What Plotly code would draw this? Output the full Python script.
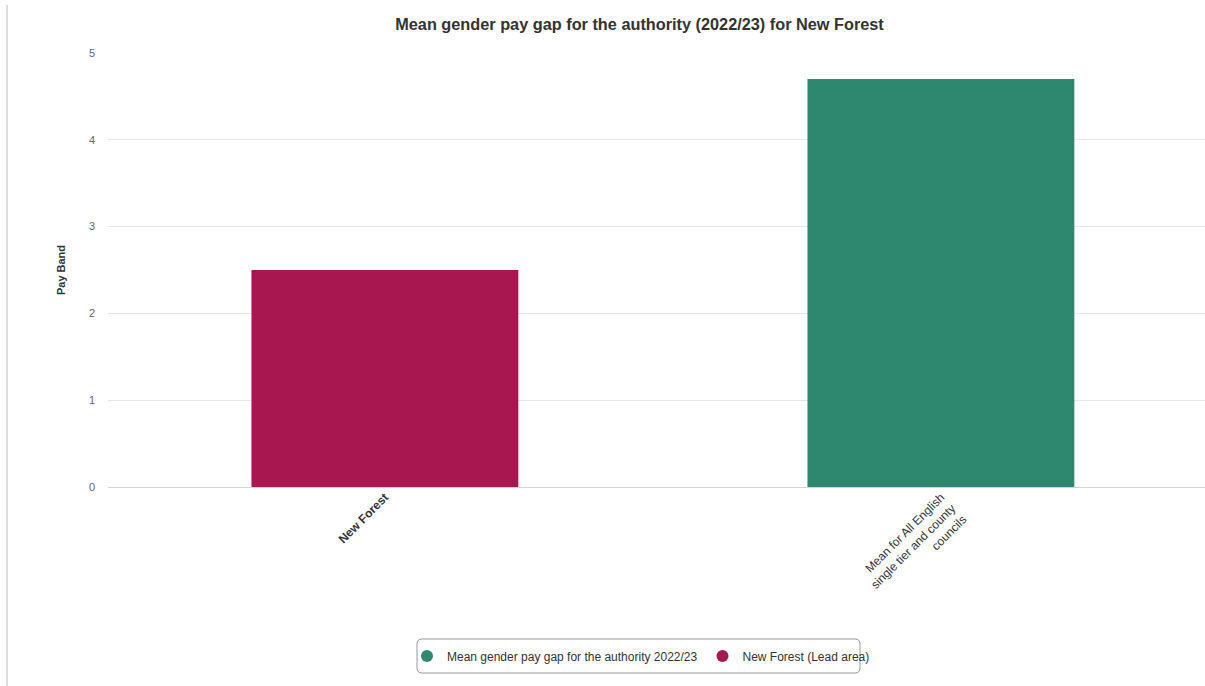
import plotly.graph_objects as go

categories = ["New Forest", "Mean for All English single tier and county councils"]
tick_labels = ["<b>New Forest</b>", "Mean for All English<br>single tier and county<br>councils"]
lead_values = [2.5]
mean_values = [4.7]

lead_color = "#A91751"
mean_color = "#2E8870"

fig = go.Figure()

fig.add_trace(go.Bar(
    x=[categories[0]], y=lead_values, marker_color=lead_color,
    marker_line_width=0, showlegend=False, width=0.48,
))
fig.add_trace(go.Bar(
    x=[categories[1]], y=mean_values, marker_color=mean_color,
    marker_line_width=0, showlegend=False, width=0.48,
))

# Circle legend entries
fig.add_trace(go.Scatter(
    x=[None], y=[None], mode="markers", name="Mean gender pay gap for the authority 2022/23",
    marker=dict(color=mean_color, size=12, symbol="circle"),
))
fig.add_trace(go.Scatter(
    x=[None], y=[None], mode="markers", name="New Forest (Lead area)",
    marker=dict(color=lead_color, size=12, symbol="circle"),
))

# Plot area in pixels
left, right, top, bottom = 108, 0, 53, 199
plot_w = 1205 - left - right
plot_h = 686 - top - bottom


def px(x):
    return (x - left) / plot_w


def py(y):
    return (686 - bottom - y) / plot_h


# Rounded legend frame
x0, x1, y0, y1, r = 417, 860, 639, 673, 5
legend_frame = (
    f"M {px(x0 + r)} {py(y0)} L {px(x1 - r)} {py(y0)} "
    f"Q {px(x1)} {py(y0)} {px(x1)} {py(y0 + r)} L {px(x1)} {py(y1 - r)} "
    f"Q {px(x1)} {py(y1)} {px(x1 - r)} {py(y1)} L {px(x0 + r)} {py(y1)} "
    f"Q {px(x0)} {py(y1)} {px(x0)} {py(y1 - r)} L {px(x0)} {py(y0 + r)} "
    f"Q {px(x0)} {py(y0)} {px(x0 + r)} {py(y0)} Z"
)

fig.update_layout(
    width=1205, height=686,
    margin=dict(l=left, r=right, t=top, b=bottom),
    paper_bgcolor="white", plot_bgcolor="white",
    font=dict(family="Liberation Sans, Arial, sans-serif", color="#333333"),
    title=dict(text="<b>Mean gender pay gap for the authority (2022/23) for New Forest</b>",
               x=px(639.5), xref="paper", xanchor="center", y=1 - 24 / 686, yanchor="middle",
               font=dict(size=16.3, color="#333333")),
    bargap=0.52,
    legend=dict(orientation="h", x=px(641), xanchor="center", y=py(656), yanchor="middle",
                bgcolor="rgba(0,0,0,0)", font=dict(size=12, color="#333333"),
                itemsizing="constant"),
    xaxis=dict(
        type="category", range=[-0.498, 1.475],
        tickmode="array", tickvals=categories, ticktext=tick_labels,
        tickangle=-45, tickfont=dict(size=12, color="#333333"),
        showgrid=False, showline=False, ticks="",
    ),
    yaxis=dict(
        range=[0, 5], dtick=1, showgrid=True, gridcolor="#e6e6e6", gridwidth=1,
        zeroline=True, zerolinecolor="#ccd6eb", zerolinewidth=1,
        tickfont=dict(size=11, color="#666666"), ticklabelstandoff=12,
        title=dict(text="<b>Pay Band</b>", font=dict(size=11, color="#333333"), standoff=21),
    ),
    shapes=[
        dict(type="line", xref="paper", yref="paper", x0=px(7), x1=px(7), y0=py(686), y1=py(5),
             line=dict(color="#bbbbbb", width=1)),
        dict(type="path", xref="paper", yref="paper", path=legend_frame,
             line=dict(color="#999999", width=1), fillcolor="rgba(0,0,0,0)"),
    ],
)

fig.write_html("out.html")
